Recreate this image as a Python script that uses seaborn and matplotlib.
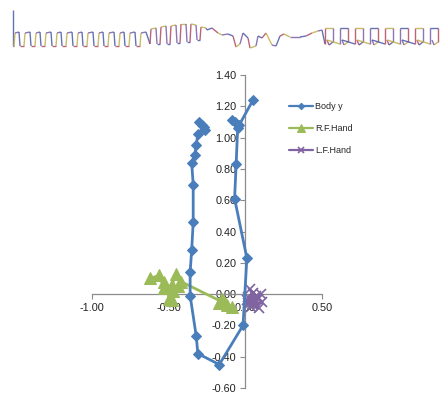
import matplotlib
matplotlib.use("Agg")
import matplotlib.pyplot as plt
import seaborn as sns
import pandas as pd
from matplotlib.collections import LineCollection

# ---- data ----
body_x = [0.05, -0.04, -0.09, -0.07, -0.05, -0.06, -0.07, 0.01, -0.015, -0.17, -0.31, -0.32,
          -0.36, -0.36, -0.35, -0.34, -0.34, -0.35, -0.33, -0.32, -0.31, -0.27, -0.30, -0.28, -0.26]
body_y = [1.24, 1.08, 1.11, 1.10, 1.06, 0.83, 0.61, 0.23, -0.20, -0.45, -0.38, -0.27,
          -0.01, 0.14, 0.28, 0.46, 0.70, 0.84, 0.89, 0.95, 1.02, 1.07, 1.10, 1.08, 1.05]

rf_x = [-0.09, -0.12, -0.17, -0.15, -0.13, -0.42, -0.45, -0.48, -0.50, -0.48, -0.53,
        -0.56, -0.62, -0.53, -0.47, -0.44]
rf_y = [-0.08, -0.07, -0.06, -0.03, -0.06, 0.08, 0.13, 0.06, -0.03, -0.04, 0.04,
        0.12, 0.10, 0.08, 0.02, 0.05]

lf_x = [0.02, 0.05, 0.08, 0.03, 0.06, 0.10, 0.04, 0.07, 0.01, 0.05, 0.11, 0.03, 0.06, 0.09, 0.02]
lf_y = [-0.02, 0.01, -0.03, -0.06, -0.04, 0.00, -0.08, -0.01, -0.04, -0.07, -0.05, 0.03, -0.03, -0.09, -0.06]

x_ticks = [-1.00, -0.50, 0.00, 0.50]
y_ticks = [-0.60, -0.40, -0.20, 0.00, 0.20, 0.40, 0.60, 0.80, 1.00, 1.20, 1.40]
series_names = ["Body y", "R.F.Hand", "L.F.Hand"]

# rough trace of the waveform strip above the chart (pixel-like units)
strip_x = [13, 13, 14, 15, 19, 20, 24, 25, 30, 31, 35, 36, 40, 41, 45, 46, 51, 52, 56, 57,
           61, 62, 66, 67, 72, 73, 77, 78, 82, 83, 87, 88, 93, 94, 98, 99, 103, 104, 108, 109,
           114, 115, 119, 120, 124, 125, 129, 130, 135, 136, 140, 141, 146,
           150, 151, 156, 157, 160, 161, 166, 167, 170, 171, 176, 177, 180, 181, 186, 187,
           190, 191, 196, 197, 200, 201, 206, 207, 212, 218, 222, 228,
           233, 236, 240, 243, 248, 250, 256, 258, 262, 266, 272, 276, 280, 284, 290, 300,
           306, 312, 318, 322,
           325, 325, 333, 333, 329, 327, 340, 340, 348, 348, 344, 342, 355, 355, 363, 363,
           359, 357, 370, 370, 378, 378, 374, 372, 385, 385, 393, 393, 389, 387, 400, 400,
           408, 408, 404, 402, 415, 415, 423, 423, 419, 417, 430, 430, 438, 438, 434, 432]
strip_y = [10, 46, 46, 33, 32, 46, 46, 33, 32, 46, 46, 33, 32, 46, 46, 33, 32, 46, 46, 33,
           32, 46, 46, 33, 32, 46, 46, 33, 32, 46, 46, 33, 32, 46, 46, 33, 32, 46, 46, 33,
           32, 46, 46, 33, 32, 46, 46, 33, 32, 46, 46, 33, 32,
           44, 29, 28, 44, 44, 27, 26, 44, 44, 26, 25, 43, 43, 24, 24, 42,
           42, 24, 25, 40, 40, 27, 28, 30, 28, 33, 35, 34,
           36, 47, 44, 33, 38, 48, 46, 36, 38, 33, 45, 46, 36, 34, 37, 37,
           36, 33, 31, 30,
           44, 28, 28, 42, 45, 40, 44, 28, 28, 42, 45, 40, 44, 28, 28, 42,
           45, 40, 44, 28, 28, 42, 45, 40, 44, 28, 28, 42, 45, 40, 44, 28,
           28, 42, 45, 40, 44, 28, 28, 42, 45, 40, 44, 28, 28, 42, 45, 40]
strip_colors = ["#4a5aa8", "#b04a62", "#c0b04e", "#7a5ea8"]

# ---- figure ----
sns.set_theme(style="white")
plt.rcParams["font.family"] = ["Liberation Sans", "DejaVu Sans"]

fig = plt.figure(figsize=(4.48, 4.00), dpi=100)
fig.patch.set_facecolor("white")

# waveform strip
axs = fig.add_axes([0, 0.85, 1, 0.15])
pts = list(zip(strip_x, strip_y))
segs = [[pts[i], pts[i + 1]] for i in range(len(pts) - 1)]
cols = [strip_colors[i % len(strip_colors)] for i in range(len(segs))]
lc = LineCollection(segs, colors=cols, linewidths=1.0, alpha=0.85)
axs.add_collection(lc)
axs.set_xlim(0, 448)
axs.set_ylim(60, 0)
axs.axis("off")

# main chart
ax = fig.add_axes([92 / 448, 12 / 400, 230 / 448, 313 / 400])
ax.set_facecolor("white")

blue, green, purple = "#4a7ebb", "#9bbb59", "#8064a2"
df_b = pd.DataFrame({"x": body_x, "y": body_y})
df_r = pd.DataFrame({"x": rf_x, "y": rf_y})
df_l = pd.DataFrame({"x": lf_x, "y": lf_y})

sns.lineplot(data=df_l, x="x", y="y", sort=False, estimator=None, ax=ax, color=purple,
             linewidth=1.8, marker="x", markersize=7, markeredgewidth=1.2,
             markeredgecolor=purple, label=series_names[2], zorder=3)
sns.lineplot(data=df_r, x="x", y="y", sort=False, estimator=None, ax=ax, color=green,
             linewidth=2.0, marker="^", markersize=8, markeredgecolor=green,
             label=series_names[1], zorder=4)
sns.lineplot(data=df_b, x="x", y="y", sort=False, estimator=None, ax=ax, color=blue,
             linewidth=2.0, marker="D", markersize=5, markeredgecolor=blue,
             label=series_names[0], zorder=5)

ax.set_xlim(-1.0, 0.5)
ax.set_ylim(-0.6, 1.4)
ax.set_xticks(x_ticks)
ax.set_yticks(y_ticks)
ax.set_xticklabels([f"{v:.2f}" for v in x_ticks])
ax.set_yticklabels([f"{v:.2f}" for v in y_ticks])
ax.set_xlabel("")
ax.set_ylabel("")

for s in ["top", "right"]:
    ax.spines[s].set_visible(False)
ax.spines["left"].set_position(("data", 0))
ax.spines["bottom"].set_position(("data", 0))
for s in ["left", "bottom"]:
    ax.spines[s].set_color("#8c8c8c")
    ax.spines[s].set_linewidth(0.9)
ax.tick_params(axis="both", direction="out", length=3.5, width=0.8, color="#8c8c8c",
               labelsize=7.8, labelcolor="#222222", pad=3, bottom=True, left=True)
ax.grid(False)

handles, labels = ax.get_legend_handles_labels()
order = [labels.index(n) for n in series_names]
leg = ax.legend([handles[i] for i in order], [labels[i] for i in order],
                loc="upper left", bbox_to_anchor=(281 / 448, (400 - 94) / 400),
                bbox_transform=fig.transFigure, frameon=False, fontsize=6.5,
                handlelength=2.6, labelspacing=1.45, handletextpad=0.25,
                markerscale=0.65)
for ln in leg.get_lines():
    ln.set_linewidth(1.6)

fig.savefig("out.png", dpi=100, facecolor="white")
